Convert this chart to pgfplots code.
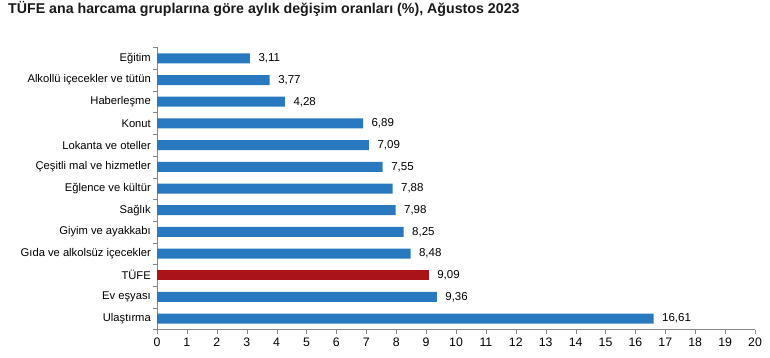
\documentclass[border=0pt]{standalone}
\usepackage{fontspec}
\setmainfont{Liberation Sans}
\usepackage{pgfplots}
\pgfplotsset{compat=1.18}
\definecolor{barblue}{RGB}{41,121,193}
\definecolor{barred}{RGB}{170,20,25}
\definecolor{axgray}{RGB}{134,134,134}
\begin{document}
\begin{tikzpicture}[x=1pt,y=1pt]
\path[use as bounding box] (0,0) rectangle (770,358);
\node[anchor=base west,inner sep=0pt,font=\bfseries\fontsize{14.2}{16}\selectfont,text=black!90] at (8,344) {TÜFE ana harcama gruplarına göre aylık değişim oranları (\%), Ağustos 2023};
\begin{axis}[
  at={(157pt,28.5pt)}, anchor=south west,
  scale only axis, width=598pt, height=282pt,
  xmin=0, xmax=20, ymin=-0.5, ymax=12.5, y dir=reverse,
  axis x line*=bottom, axis y line*=left,
  axis line style={axgray},
  xtick={0,...,20},
  ytick={-0.5,0.5,...,12.5},
  yticklabels={Eğitim,Alkollü içecekler ve tütün,Haberleşme,Konut,Lokanta ve oteller,Çeşitli mal ve hizmetler,Eğlence ve kültür,Sağlık,Giyim ve ayakkabı,Gıda ve alkolsüz içecekler,TÜFE,Ev eşyası,Ulaştırma,{}},
  yticklabel style={yshift=-10.85pt, font=\fontsize{11.2}{13}\selectfont, text=black, inner xsep=2pt},
  xticklabel style={font=\fontsize{12.3}{14}\selectfont, text=black, yshift=-1pt},
  tick align=outside,
  major tick length=4pt,
  tick style={axgray},
  /pgf/number format/assume math mode=true,
  point meta=x,
  nodes near coords={\pgfmathprintnumber[fixed,fixed zerofill,precision=2,use comma]{\pgfplotspointmeta}},
  nodes near coords style={anchor=west, xshift=5pt, font=\fontsize{11.5}{13}\selectfont, text=black},
]
\addplot[xbar, bar width=10pt, bar shift=0pt, fill=barblue, draw=none] coordinates {
  (3.11,0) (3.77,1) (4.28,2) (6.89,3) (7.09,4) (7.55,5) (7.88,6) (7.98,7) (8.25,8) (8.48,9) (9.36,11) (16.61,12)};
\addplot[xbar, bar width=10pt, bar shift=0pt, fill=barred, draw=none] coordinates {(9.09,10)};
\end{axis}
\end{tikzpicture}
\end{document}
